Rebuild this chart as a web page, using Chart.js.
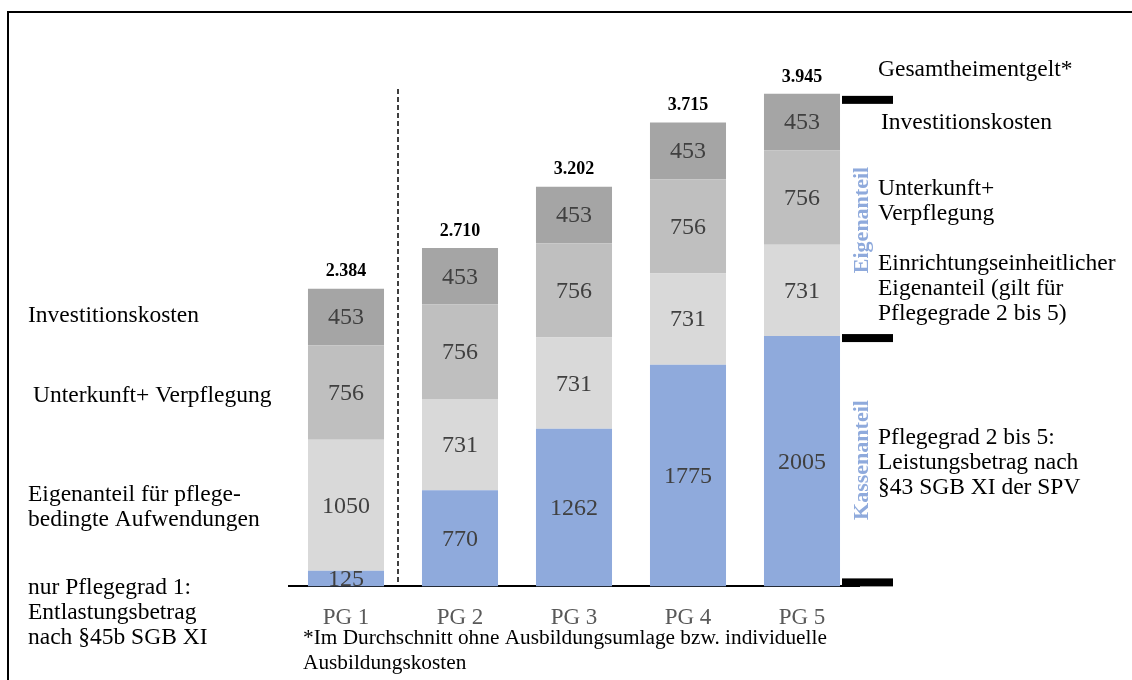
<!DOCTYPE html>
<html><head><meta charset="utf-8">
<script src="https://cdn.jsdelivr.net/npm/chart.js@4.4.1/dist/chart.umd.min.js"></script>
<style>html,body{margin:0;padding:0;background:#fff;} canvas{display:block}</style>
</head><body>
<canvas id="c" width="1132" height="680"></canvas>
<script>
// ---- data ----
const categories = ['PG 1', 'PG 2', 'PG 3', 'PG 4', 'PG 5'];
const kassenanteil = [125, 770, 1262, 1775, 2005];
const eigenanteilPflege = [1050, 731, 731, 731, 731];
const unterkunftVerpflegung = [756, 756, 756, 756, 756];
const investitionskosten = [453, 453, 453, 453, 453];
const yMax = 4000;

const leftNotes = [
  {lines: ['Investitionskosten'], x: 28, y: 316},
  {lines: ['Unterkunft+ Verpflegung'], x: 33, y: 396},
  {lines: ['Eigenanteil für pflege-', 'bedingte Aufwendungen'], x: 28, y: 495},
  {lines: ['nur Pflegegrad 1:', 'Entlastungsbetrag', 'nach §45b SGB XI'], x: 28, y: 588}
];
const rightNotes = [
  {lines: ['Gesamtheimentgelt*'], x: 878, y: 70},
  {lines: ['Investitionskosten'], x: 881, y: 123},
  {lines: ['Unterkunft+', 'Verpflegung'], x: 878, y: 189},
  {lines: ['Einrichtungseinheitlicher', 'Eigenanteil (gilt für', 'Pflegegrade 2 bis 5)'], x: 878, y: 264},
  {lines: ['Pflegegrad 2 bis 5:', 'Leistungsbetrag nach', '§43 SGB XI der SPV'], x: 878, y: 438}
];
const footnote = ['*Im Durchschnitt ohne Ausbildungsumlage bzw. individuelle', 'Ausbildungskosten'];
const sideTitles = [
  {text: 'Eigenanteil', y: 220},
  {text: 'Kassenanteil', y: 460}
];

const totals = categories.map((_, i) => kassenanteil[i] + eigenanteilPflege[i] + unterkunftVerpflegung[i] + investitionskosten[i]);
const fmt = v => String(v).replace(/\B(?=(\d{3})+(?!\d))/g, '.');

const SERIF = '"Liberation Serif", "Times New Roman", serif';

const overlay = {
  id: 'overlay',
  afterDatasetsDraw(chart) {
    const ctx = chart.ctx;
    const xs = chart.scales.x, ys = chart.scales.y;
    ctx.save();
    // segment labels
    ctx.textAlign = 'center';
    ctx.textBaseline = 'middle';
    ctx.font = '24px ' + SERIF;
    ctx.fillStyle = '#404040';
    chart.data.datasets.forEach((ds, di) => {
      const meta = chart.getDatasetMeta(di);
      meta.data.forEach((bar, i) => {
        const p = bar.getProps(['x', 'y', 'base'], true);
        ctx.fillText(String(ds.data[i]), p.x, (p.y + p.base) / 2 + 1);
      });
    });
    // totals
    ctx.font = 'bold 18px ' + SERIF;
    ctx.fillStyle = '#000';
    const topMeta = chart.getDatasetMeta(chart.data.datasets.length - 1);
    topMeta.data.forEach((bar, i) => {
      const p = bar.getProps(['x', 'y'], true);
      ctx.fillText(fmt(totals[i]), p.x, p.y - 17);
    });
    // dashed separator between PG 1 and PG 2
    const sepX = (xs.getPixelForValue(0) + xs.getPixelForValue(1)) / 2 - 5;
    ctx.strokeStyle = '#000';
    ctx.lineWidth = 1.5;
    ctx.setLineDash([5, 3]);
    ctx.beginPath();
    ctx.moveTo(sepX, 89);
    ctx.lineTo(sepX, ys.getPixelForValue(0));
    ctx.stroke();
    ctx.setLineDash([]);
    // thick markers on the right
    const last = categories.length - 1;
    const mx0 = 842, mx1 = 893;
    ctx.fillStyle = '#000';
    [[totals[last], 6], [kassenanteil[last], 2], [0, -4]].forEach(([v, off]) => {
      const cy = ys.getPixelForValue(v) + off;
      ctx.fillRect(mx0, cy - 4, mx1 - mx0, 8);
    });
    // side titles rotated
    ctx.font = 'bold 22px ' + SERIF;
    ctx.fillStyle = '#8FAADC';
    sideTitles.forEach(t => {
      ctx.save();
      ctx.translate(862, t.y);
      ctx.rotate(-Math.PI / 2);
      ctx.fillText(t.text, 0, 0);
      ctx.restore();
    });
    // annotations
    ctx.textAlign = 'left';
    ctx.fillStyle = '#000';
    ctx.font = '23.5px ' + SERIF;
    [...leftNotes, ...rightNotes].forEach(n => {
      n.lines.forEach((l, k) => ctx.fillText(l, n.x, n.y + k * 25));
    });
    ctx.font = '21.3px ' + SERIF;
    footnote.forEach((l, k) => ctx.fillText(l, 303, 638 + k * 25));
    // frame (top and left)
    ctx.fillRect(7, 11, 1132 - 7, 2);
    ctx.fillRect(7, 11, 2, 680 - 11);
    ctx.restore();
  }
};

new Chart(document.getElementById('c'), {
  type: 'bar',
  data: {
    labels: categories,
    datasets: [
      {label: 'Kassenanteil', data: kassenanteil, backgroundColor: '#8FAADC'},
      {label: 'Eigenanteil Pflege', data: eigenanteilPflege, backgroundColor: '#D9D9D9'},
      {label: 'Unterkunft+Verpflegung', data: unterkunftVerpflegung, backgroundColor: '#BFBFBF'},
      {label: 'Investitionskosten', data: investitionskosten, backgroundColor: '#A5A5A5'}
    ]
  },
  options: {
    responsive: false,
    animation: false,
    events: [],
    layout: {padding: {left: 289, right: 273, top: 87, bottom: 38}},
    datasets: {bar: {categoryPercentage: 1, barPercentage: 0.667, borderWidth: 0}},
    plugins: {legend: {display: false}, tooltip: {enabled: false}},
    scales: {
      x: {
        stacked: true,
        grid: {display: false},
        border: {display: true, color: '#000', width: 2},
        ticks: {color: '#595959', font: {family: SERIF, size: 23}, padding: 10}
      },
      y: {stacked: true, display: false, min: 0, max: yMax}
    }
  },
  plugins: [overlay]
});
</script>
</body></html>
